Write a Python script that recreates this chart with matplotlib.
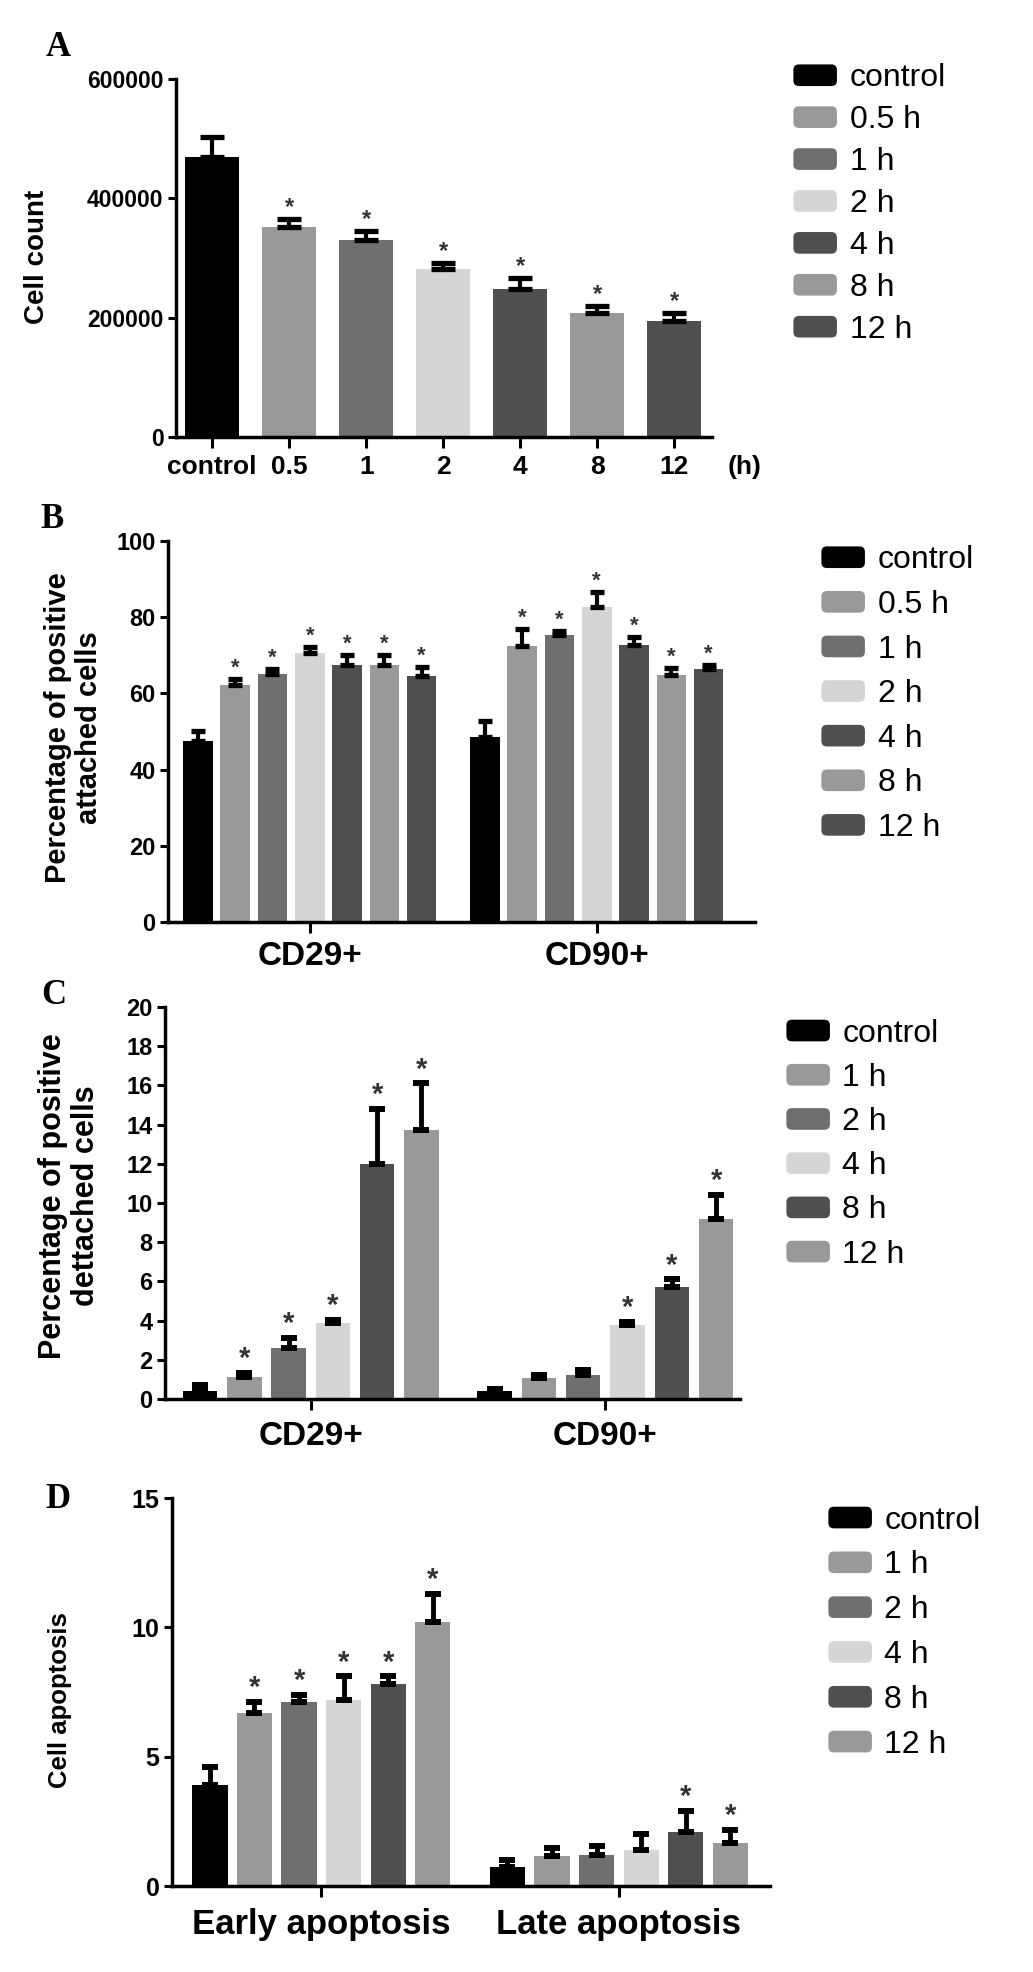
import matplotlib
matplotlib.use("Agg")
import matplotlib.pyplot as plt
import numpy as np
from matplotlib.patches import Patch, FancyBboxPatch
from matplotlib.legend_handler import HandlerPatch

plt.rcParams['font.family'] = ['Liberation Sans', 'DejaVu Sans']

# ---------------- data ----------------
A_labels = ['control', '0.5', '1', '2', '4', '8', '12']
A_series = ['control', '0.5 h', '1 h', '2 h', '4 h', '8 h', '12 h']
A_mean = [470000, 352000, 330000, 281000, 248000, 208000, 194000]
A_err = [33000, 14000, 15000, 10000, 19000, 11000, 14000]
A_sig = [0, 1, 1, 1, 1, 1, 1]

B_groups = ['CD29+', 'CD90+']
B_series = ['control', '0.5 h', '1 h', '2 h', '4 h', '8 h', '12 h']
B_cd29 = [47.5, 62.3, 65.2, 70.5, 67.4, 67.4, 64.6]
B_cd29_err = [2.6, 1.5, 1.2, 1.8, 2.8, 2.8, 2.4]
B_cd90 = [48.5, 72.4, 75.2, 82.8, 72.8, 64.7, 66.5]
B_cd90_err = [4.2, 4.6, 1.2, 3.8, 2.0, 2.0, 1.0]
B_sig29 = [0, 1, 1, 1, 1, 1, 1]
B_sig90 = [0, 1, 1, 1, 1, 1, 1]

C_groups = ['CD29+', 'CD90+']
C_series = ['control', '1 h', '2 h', '4 h', '8 h', '12 h']
C_cd29 = [0.4, 1.1, 2.6, 3.9, 12.0, 13.7]
C_cd29_err = [0.3, 0.25, 0.5, 0.15, 2.8, 2.4]
C_cd90 = [0.4, 1.05, 1.2, 3.8, 5.7, 9.2]
C_cd90_err = [0.12, 0.15, 0.3, 0.15, 0.4, 1.2]
C_sig29 = [0, 1, 1, 1, 1, 1]
C_sig90 = [0, 0, 0, 1, 1, 1]

D_groups = ['Early apoptosis', 'Late apoptosis']
D_series = ['control', '1 h', '2 h', '4 h', '8 h', '12 h']
D_early = [3.9, 6.7, 7.1, 7.2, 7.8, 10.2]
D_early_err = [0.7, 0.4, 0.3, 0.9, 0.3, 1.1]
D_late = [0.75, 1.15, 1.2, 1.4, 2.1, 1.65]
D_late_err = [0.25, 0.32, 0.35, 0.6, 0.8, 0.5]
D_sig_early = [0, 1, 1, 1, 1, 1]
D_sig_late = [0, 0, 0, 0, 1, 1]

# ---------------- style ----------------
BLACK = '#000000'
MID = '#999999'
DARK1 = '#6f6f6f'
LIGHT = '#d5d5d5'
DARK2 = '#4f4f4f'
colors7 = [BLACK, MID, DARK1, LIGHT, DARK2, MID, DARK2]
colors6 = [BLACK, MID, DARK1, LIGHT, DARK2, MID]

W, H = 1033, 1972
fig = plt.figure(figsize=(W / 100, H / 100), dpi=100)


def add_axes(left, right, top, bottom):
    return fig.add_axes([left / W, 1 - bottom / H, (right - left) / W, (bottom - top) / H])


class RoundHandler(HandlerPatch):
    def create_artists(self, legend, orig_handle, xdescent, ydescent, width, height, fontsize, trans):
        p = FancyBboxPatch((-xdescent + 1, -ydescent + 1), width - 2, height - 2,
                           boxstyle="round,pad=0,rounding_size=4",
                           facecolor=orig_handle.get_facecolor(), edgecolor='none',
                           transform=trans)
        return [p]


def style_axes(ax, tick_fs, xpad):
    for s in ['top', 'right']:
        ax.spines[s].set_visible(False)
    for s in ['left', 'bottom']:
        ax.spines[s].set_linewidth(2.5)
    ax.tick_params(axis='both', width=2.2, direction='out')
    ax.tick_params(axis='x', length=8, pad=xpad)
    ax.tick_params(axis='y', length=6, pad=3)
    for lab in ax.get_yticklabels():
        lab.set_fontweight('bold')
        lab.set_fontsize(tick_fs)


def draw_bars(ax, xs, vals, errs, cols, sigs, width, capsize, star_fs, elw):
    ax.bar(xs, vals, width=width, color=cols, edgecolor='none', zorder=2)
    for x, v, e, s in zip(xs, vals, errs, sigs):
        ax.errorbar([x], [v], yerr=[[0], [e]], fmt='none', ecolor='black',
                    elinewidth=elw, capsize=capsize, capthick=elw + 0.8, zorder=3)
        if s:
            ax.annotate('*', xy=(x, v + e), xytext=(0, 0), textcoords='offset points',
                        ha='center', va='bottom', fontsize=star_fs, fontweight='bold',
                        color='#333333')


def add_legend(labels, cols, x, y_first, pitch, fs=23):
    handles = [Patch(facecolor=c, label=l) for c, l in zip(cols, labels)]
    fs_px = fs * 100 / 72
    spacing = (pitch - 0.93 * fs_px) / fs_px
    yc = y_first + pitch * (len(labels) - 1) / 2
    fig.legend(handles=handles, loc='center left', bbox_to_anchor=(x / W, 1 - yc / H),
               frameon=False, fontsize=fs, handlelength=1.45, handleheight=0.8,
               handletextpad=0.35, labelspacing=spacing, borderpad=0, borderaxespad=0,
               handler_map={Patch: RoundHandler()})


def panel_letter(ch, x, y):
    fig.text(x / W, 1 - y / H, ch, family=['Liberation Serif', 'DejaVu Serif'],
             fontweight='bold', fontsize=25, ha='center', va='center')


def ylabel_at(ax, text, fs, x_right, y, box):
    # x_right: pixel position of the right edge of the rotated label block
    left, right, top, bottom = box
    ax.set_ylabel(text, fontsize=fs, fontweight='bold', linespacing=1.15)
    ax.yaxis.set_label_coords((x_right - left) / (right - left), (bottom - y) / (bottom - top))


# ---------------- Panel A ----------------
boxA = (176, 712, 79, 437)
axA = add_axes(*boxA)
xa = np.arange(len(A_mean))
draw_bars(axA, xa, A_mean, A_err, colors7, A_sig, 0.70, 8.5, 17, 3)
axA.set_xlim(-0.47, 6.49)
axA.set_ylim(0, 600000)
axA.set_yticks([0, 200000, 400000, 600000])
axA.set_xticks(xa)
axA.set_xticklabels(A_labels, fontsize=19, fontweight='bold')
style_axes(axA, 16.5, 5)
ylabel_at(axA, 'Cell count', 20, 50, 257, boxA)
fig.text(745 / W, 1 - 467 / H, '(h)', fontsize=19, fontweight='bold', ha='center', va='center')
add_legend(A_series, colors7, 792, 80, 41.3)
panel_letter('A', 58, 48)

# ---------------- Panel B ----------------
boxB = (168, 755, 541, 922)
axB = add_axes(*boxB)
nB = len(B_series)
offB = 7.69
x29 = np.arange(nB)
x90 = np.arange(nB) + offB
draw_bars(axB, x29, B_cd29, B_cd29_err, colors7, B_sig29, 0.79, 5, 16, 3)
draw_bars(axB, x90, B_cd90, B_cd90_err, colors7, B_sig90, 0.79, 5, 16, 3)
axB.set_xlim(-0.80, 14.93)
axB.set_ylim(0, 100)
axB.set_yticks(np.arange(0, 101, 20))
axB.set_xticks([3, 3 + offB])
axB.set_xticklabels(B_groups, fontsize=24, fontweight='bold')
style_axes(axB, 17, 6)
ylabel_at(axB, 'Percentage of positive\nattached cells', 21, 103, 728, boxB)
add_legend(B_series, colors7, 820, 562, 44)
panel_letter('B', 52, 519)

# ---------------- Panel C ----------------
boxC = (165, 740, 1007, 1399)
axC = add_axes(*boxC)
nC = len(C_series)
offC = 6.65
xc29 = np.arange(nC)
xc90 = np.arange(nC) + offC
draw_bars(axC, xc29, C_cd29, C_cd29_err, colors6, C_sig29, 0.78, 5.5, 21, 3.5)
draw_bars(axC, xc90, C_cd90, C_cd90_err, colors6, C_sig90, 0.78, 5.5, 21, 3.5)
axC.set_xlim(-0.79, 12.19)
axC.set_ylim(0, 20)
axC.set_yticks(np.arange(0, 21, 2))
axC.set_xticks([2.5, 2.5 + offC])
axC.set_xticklabels(C_groups, fontsize=24, fontweight='bold')
style_axes(axC, 17, 8)
ylabel_at(axC, 'Percentage of positive\ndettached cells', 22, 101, 1196, boxC)
add_legend(C_series, colors6, 785, 1035, 43.6)
panel_letter('C', 54, 996)

# ---------------- Panel D ----------------
boxD = (172, 770, 1498, 1886)
axD = add_axes(*boxD)
nD = len(D_series)
offD = 6.67
xe = np.arange(nD)
xl = np.arange(nD) + offD
draw_bars(axD, xe, D_early, D_early_err, colors6, D_sig_early, 0.79, 6, 21, 3.5)
draw_bars(axD, xl, D_late, D_late_err, colors6, D_sig_late, 0.79, 6, 21, 3.5)
axD.set_xlim(-0.85, 12.56)
axD.set_ylim(0, 15)
axD.set_yticks([0, 5, 10, 15])
axD.set_xticks([2.5, 2.5 + offD])
axD.set_xticklabels(D_groups, fontsize=25, fontweight='bold')
style_axes(axD, 18, 8)
ylabel_at(axD, 'Cell apoptosis', 18.5, 72, 1700, boxD)
add_legend(D_series, colors6, 827, 1522, 44.2)
panel_letter('D', 58, 1500)

fig.savefig('out.png', dpi=100)
